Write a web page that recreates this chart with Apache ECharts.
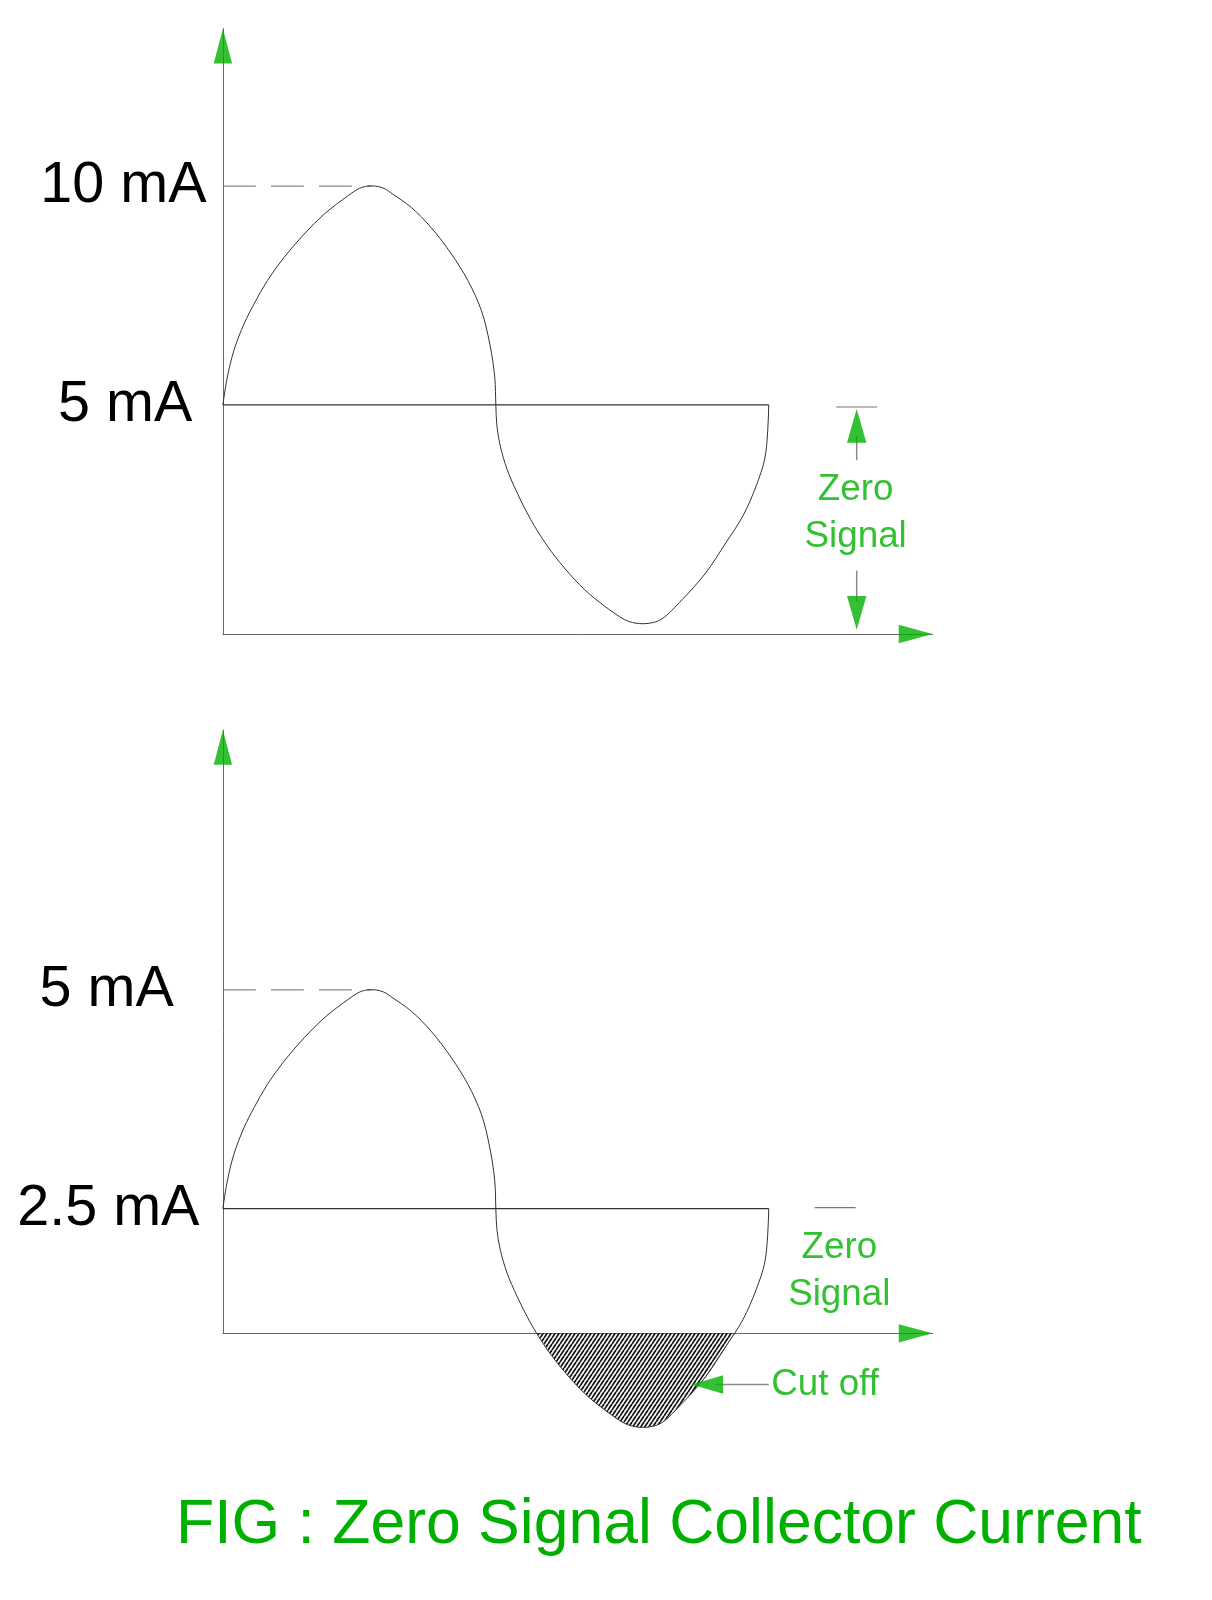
<!DOCTYPE html>
<html>
<head>
<meta charset="utf-8">
<script src="https://cdn.jsdelivr.net/npm/echarts@6/dist/echarts.min.js"></script>
<style>
html,body{margin:0;padding:0;background:#fff;}
#chart{width:1212px;height:1600px;}
</style>
</head>
<body>
<div id="chart"></div>
<script>
// ---- data ----
// signal phase (degrees) along the time axis
const phaseDeg = [0,0.7,2.9,7.2,13.9,20.5,29.3,40.3,53.6,66.8,82.3,90,95.4,100.8,106.2,112.1,124.2,137.3,150.7,161.6,170.5,176,179.3,180,
  180.7,182.9,187.4,194,202.9,214,225.2,238.5,251.8,265.1,271.8,277.4,283.5,289.6,302.9,318.4,331.7,342.9,351.7,357.3,359.3,360];
// collector current (mA), upper figure
const topCurrent = [5,5.175,5.63,6.24,6.85,7.305,7.84,8.37,8.905,9.36,9.775,9.95,10,10,9.95,9.815,9.515,9.055,8.45,7.84,7.155,6.395,5.63,5,
  4.525,4.065,3.53,2.995,2.385,1.775,1.275,0.78,0.4,0.09,0.015,0,0.025,0.11,0.55,1.16,1.85,2.46,3.15,3.76,4.4,5];
// collector current (mA), lower figure
const bottomCurrent = [2.5,2.588,2.815,3.12,3.425,3.653,3.92,4.185,4.453,4.68,4.888,4.975,5,5,4.975,4.908,4.758,4.528,4.225,3.92,3.578,3.198,2.815,2.5,
  2.263,2.033,1.765,1.498,1.193,0.888,0.638,0.39,0.2,0.045,0.008,0,0.013,0.055,0.275,0.58,0.925,1.23,1.575,1.88,2.2,2.5];
const topTickValues = [5, 10];
const topTickLabels = ['5 mA', '10 mA'];
const bottomTickValues = [2.5, 5];
const bottomTickLabels = ['2.5 mA', '5 mA'];
const topZeroSignal = 5;      // mA
const bottomZeroSignal = 2.5; // mA
const topPeak = 10;
const bottomPeak = 5;
const peakPhase = 98;
const cyclePhase = 360;
const bottomCutoffLevel = 1.075; // mA level where lower x-axis sits

// ---- styles / layout ----
const K = 1.0225;
const GREEN = '#00b000';
const FONT = "'Liberation Sans', Arial, sans-serif";
const AX = {min: 0, max: 468};
const topY = {min: -0.234, max: 13.6};
const botY = {min: bottomCutoffLevel, max: 7.97};

const chart = echarts.init(document.getElementById('chart'), null, {renderer: 'canvas'});

// hatch pattern
const tile = document.createElement('canvas');
tile.width = 4; tile.height = 6;
const tc = tile.getContext('2d');
tc.strokeStyle = '#111';
tc.lineWidth = 1.7;
for (let k = -1; k <= 1; k++) {
  tc.beginPath();
  tc.moveTo(k * 4, 6);
  tc.lineTo(k * 4 + 4, 0);
  tc.stroke();
}

// centripetal Catmull-Rom through pixel points -> SVG path data
function splinePath(p) {
  const n = p.length;
  let d = 'M' + p[0][0] + ' ' + p[0][1];
  const dist = (a, b) => Math.pow(Math.hypot(b[0] - a[0], b[1] - a[1]), 0.5) || 1e-6;
  for (let i = 0; i < n - 1; i++) {
    const p0 = p[Math.max(i - 1, 0)], p1 = p[i], p2 = p[i + 1], p3 = p[Math.min(i + 2, n - 1)];
    let d1 = dist(p0, p1), d2 = dist(p1, p2), d3 = dist(p2, p3);
    if (i === 0) d1 = d2;
    if (i === n - 2) d3 = d2;
    const b1 = [0, 1].map(k => {
      if (i === 0) return p1[k] + (p2[k] - p1[k]) / 3;
      return (d1 * d1 * p2[k] - d2 * d2 * p0[k] + (2 * d1 * d1 + 3 * d1 * d2 + d2 * d2) * p1[k]) / (3 * d1 * (d1 + d2));
    });
    const b2 = [0, 1].map(k => {
      if (i === n - 2) return p2[k] - (p2[k] - p1[k]) / 3;
      return (d3 * d3 * p1[k] - d2 * d2 * p3[k] + (2 * d3 * d3 + 3 * d3 * d2 + d2 * d2) * p2[k]) / (3 * d3 * (d3 + d2));
    });
    d += ' C' + b1[0] + ' ' + b1[1] + ' ' + b2[0] + ' ' + b2[1] + ' ' + p2[0] + ' ' + p2[1];
  }
  return d;
}

function line(idx, pts, style, z) {
  return {type: 'line', xAxisIndex: idx, yAxisIndex: idx, data: pts, symbol: 'none',
    lineStyle: style, silent: true, clip: false, z: z || 2, animation: false};
}
const ARROWS = {
  up: 'path://M5,0 L10,20 L0,20 Z',
  down: 'path://M0,0 L10,0 L5,20 Z',
  right: 'path://M0,0 L20,5 L0,10 Z',
  left: 'path://M20,0 L20,10 L0,5 Z'
};
function arrow(idx, pt, dir, w, h) {
  w *= K; h *= K;
  let off = [0, 0];
  if (dir === 'up') off = [0, h / 2];
  if (dir === 'down') off = [0, -h / 2];
  if (dir === 'right') off = [-w / 2, 0];
  if (dir === 'left') off = [w / 2, 0];
  return {type: 'scatter', xAxisIndex: idx, yAxisIndex: idx, data: [pt], symbol: ARROWS[dir],
    symbolSize: [w, h], symbolOffset: off, itemStyle: {color: GREEN}, silent: true, clip: false, z: 6, animation: false};
}
function text(idx, pt, str, size, lh) {
  return {type: 'scatter', xAxisIndex: idx, yAxisIndex: idx, data: [pt], symbol: 'circle', symbolSize: 1,
    itemStyle: {color: 'rgba(0,0,0,0)'}, silent: true, clip: false, z: 6, animation: false,
    label: {show: true, position: 'inside', formatter: str, color: GREEN, fontSize: size * K,
      lineHeight: (lh || size) * K, fontFamily: FONT}};
}
function curve(idx, arr) {
  return {type: 'custom', xAxisIndex: idx, yAxisIndex: idx, data: [[0, 0]], silent: true, clip: false, z: 4, animation: false,
    renderItem: function (params, api) {
      const pts = phaseDeg.map((ph, i) => api.coord([ph, arr[i]]));
      return {type: 'path', shape: {pathData: splinePath(pts)},
        style: {stroke: '#333', lineWidth: 1, fill: null}};
    }};
}

const dashStyle = {color: '#8a8a8a', width: 1.2, type: [33, 15]};
const stemStyle = {color: '#8a8a8a', width: 1.5};

function yAxisCfg(idx, rng, vals, labels, pads) {
  return {type: 'value', gridIndex: idx, min: rng.min, max: rng.max,
    axisLine: {show: true, onZero: false, lineStyle: {color: '#666', width: 1}},
    axisTick: {show: false}, splitLine: {show: false},
    axisLabel: {show: true, customValues: vals, margin: 0,
      formatter: function (v) {
        const i = vals.indexOf(v);
        return i < 0 ? '' : '{p' + i + '|' + labels[i] + '}';
      },
      rich: {
        p0: {fontSize: 57.5, fontFamily: FONT, color: '#000', padding: [0, pads[0] * K, 0, 0]},
        p1: {fontSize: 57.5, fontFamily: FONT, color: '#000', padding: [0, pads[1] * K, 0, 0]}
      }
    }};
}
function xAxisCfg(idx) {
  return {type: 'value', gridIndex: idx, min: AX.min, max: AX.max,
    axisLine: {show: true, onZero: false, lineStyle: {color: '#666', width: 1}},
    axisTick: {show: false}, axisLabel: {show: false}, splitLine: {show: false}};
}

const option = {
  backgroundColor: '#fff',
  animation: false,
  title: {
    text: 'FIG : Zero Signal Collector Current',
    left: 171, top: 1489,
    textStyle: {color: GREEN, fontSize: 62.5, fontWeight: 'normal', fontFamily: FONT}
  },
  grid: [
    {left: 218 * K, top: 28 * K, width: 694 * K, height: 592 * K},
    {left: 218 * K, top: 714 * K, width: 694 * K, height: 590 * K}
  ],
  xAxis: [xAxisCfg(0), xAxisCfg(1)],
  yAxis: [
    yAxisCfg(0, topY, topTickValues, topTickLabels, [30, 16]),
    yAxisCfg(1, botY, bottomTickValues, bottomTickLabels, [23, 48])
  ],
  series: [
    // ---- upper figure ----
    line(0, [[0, topPeak], [peakPhase, topPeak]], dashStyle),
    line(0, [[0, topZeroSignal], [cyclePhase, topZeroSignal]], {color: '#333', width: 1.2}),
    curve(0, topCurrent),
    arrow(0, [0, topY.max], 'up', 18, 34),
    arrow(0, [AX.max, topY.min], 'right', 33, 18),
    line(0, [[404.5, 4.953], [431.5, 4.953]], {color: '#777', width: 1.2}),
    line(0, [[418, 4.3], [418, 3.738]], stemStyle),
    arrow(0, [418, 4.907], 'up', 19, 33),
    line(0, [[418, 1.215], [418, 0.5]], stemStyle),
    arrow(0, [418, -0.14], 'down', 19, 33),
    text(0, [417.3, 2.523], 'Zero\nSignal', 36, 46),
    // ---- lower figure ----
    {
      type: 'custom', xAxisIndex: 1, yAxisIndex: 1, data: [[0, 0]], silent: true, clip: false, z: 3, animation: false,
      renderItem: function (params, api) {
        const cut = bottomCutoffLevel;
        const pts = [];
        for (let i = 1; i < phaseDeg.length; i++) {
          const x0 = phaseDeg[i - 1], y0 = bottomCurrent[i - 1];
          const x1 = phaseDeg[i], y1 = bottomCurrent[i];
          if ((y0 - cut) * (y1 - cut) < 0) {
            const t = (cut - y0) / (y1 - y0);
            pts.push(api.coord([x0 + t * (x1 - x0), cut]));
          }
          if (y1 < cut) pts.push(api.coord([x1, y1]));
        }
        return {type: 'path', shape: {pathData: splinePath(pts) + ' Z'},
          style: {fill: {image: tile, repeat: 'repeat'}, stroke: null}};
      }
    },
    line(1, [[0, bottomPeak], [peakPhase, bottomPeak]], dashStyle),
    line(1, [[0, bottomZeroSignal], [cyclePhase, bottomZeroSignal]], {color: '#333', width: 1.2}),
    curve(1, bottomCurrent),
    arrow(1, [0, botY.max], 'up', 18, 34),
    arrow(1, [AX.max, botY.min], 'right', 33, 18),
    line(1, [[390.3, 2.512], [417.3, 2.512]], {color: '#777', width: 1.2}),
    text(1, [406.5, 1.787], 'Zero\nSignal', 36, 46),
    line(1, [[325, 0.491], [360, 0.491]], stemStyle),
    arrow(1, [309, 0.491], 'left', 31, 18),
    text(1, [397.1, 0.491], 'Cut off', 36)
  ]
};
chart.setOption(option);
</script>
</body>
</html>
